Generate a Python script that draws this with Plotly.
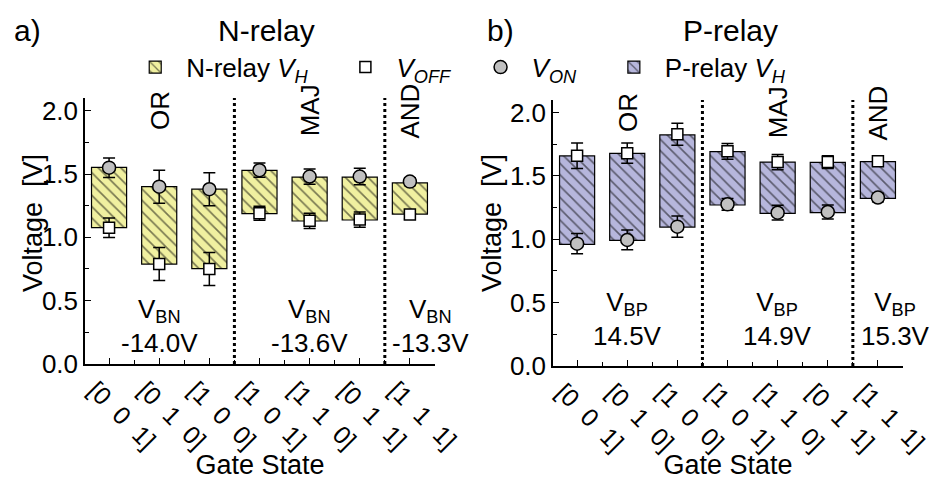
import plotly.graph_objects as go

# ---------------- data ----------------
gate_states = ["[0\u00a0\u00a00\u00a0\u00a01]", "[0\u00a0\u00a01\u00a0\u00a00]", "[1\u00a0\u00a00\u00a0\u00a00]",
               "[1\u00a0\u00a00\u00a0\u00a01]", "[1\u00a0\u00a01\u00a0\u00a00]", "[0\u00a0\u00a01\u00a0\u00a01]",
               "[1\u00a0\u00a01\u00a0\u00a01]"]
positions = [1, 2, 3, 4, 5, 6, 7]

n_top = [1.553, 1.40, 1.38, 1.529, 1.476, 1.476, 1.43]
n_bottom = [1.076, 0.789, 0.753, 1.187, 1.129, 1.137, 1.184]
n_von = [1.55, 1.40, 1.38, 1.53, 1.48, 1.48, 1.44]
n_von_err = [0.077, 0.13, 0.13, 0.056, 0.06, 0.065, 0.03]
n_voff = [1.076, 0.79, 0.75, 1.19, 1.13, 1.14, 1.18]
n_voff_err = [0.077, 0.13, 0.13, 0.055, 0.06, 0.06, 0.035]

p_top = [1.658, 1.679, 1.824, 1.692, 1.61, 1.608, 1.613]
p_bottom = [0.96, 0.992, 1.097, 1.271, 1.205, 1.21, 1.324]
p_voff = [1.66, 1.68, 1.83, 1.695, 1.61, 1.61, 1.616]
p_voff_err = [0.10, 0.08, 0.087, 0.062, 0.06, 0.05, 0.025]
p_von = [0.966, 0.995, 1.10, 1.276, 1.21, 1.216, 1.33]
p_von_err = [0.08, 0.078, 0.084, 0.047, 0.058, 0.055, 0.033]

logic_groups = ["OR", "MAJ", "AND"]
logic_pos = [2, 5, 7]
vbn_labels = ["-14.0V", "-13.6V", "-13.3V"]
vbp_labels = ["14.5V", "14.9V", "15.3V"]
vb_label_pos_n = [2, 5, 7.42]
vb_label_pos_p = [2, 5, 7.35]
group_dividers = [3.5, 6.5]

NB = "\u00a0"
legend_names = {
    "n_bar": "N-relay <i>V<sub>H</sub></i>" + NB * 3,
    "voff": "<i>V<sub>OFF</sub></i>" + NB * 2,
    "von": "<i>V<sub>ON</sub></i>" + NB * 3,
    "p_bar": "P-relay <i>V<sub>H</sub></i>",
}

YELLOW = "#f0f0a0"
PURPLE = "#b6b6dc"
GRAY = "#c0c0c0"
FONT = "Liberation Sans, Arial, sans-serif"


def f(size):
    return dict(size=size, family=FONT, color="black")


fig = go.Figure()


def add_bars(xa, ya, top, bottom, color, name):
    hyst = [t - b for t, b in zip(top, bottom)]
    fig.add_trace(go.Bar(
        x=positions, y=hyst, base=bottom, width=0.7,
        xaxis=xa, yaxis=ya, name=name, showlegend=True,
        marker=dict(color=color, line=dict(color="black", width=1.2),
                    pattern=dict(shape="\\", fgcolor="black", bgcolor=color, size=8, solidity=0.2)),
    ))


def add_points(xa, ya, vals, errs, symbol, size, color, name, show):
    fig.add_trace(go.Scatter(
        x=positions, y=vals, mode="markers", xaxis=xa, yaxis=ya,
        name=name, showlegend=show,
        marker=dict(symbol=symbol, size=size, color=color, line=dict(color="black", width=1.5)),
        error_y=dict(type="data", array=errs, color="black", thickness=1.5, width=6),
    ))


# N-relay panel
add_bars("x", "y", n_top, n_bottom, YELLOW, legend_names["n_bar"])
add_points("x", "y", n_voff, n_voff_err, "square", 11, "white", legend_names["voff"], True)
add_points("x", "y", n_von, n_von_err, "circle", 13, GRAY, legend_names["von"], True)

# P-relay panel
add_bars("x2", "y2", p_top, p_bottom, PURPLE, legend_names["p_bar"])
add_points("x2", "y2", p_voff, p_voff_err, "square", 11, "white", legend_names["voff"], False)
add_points("x2", "y2", p_von, p_von_err, "circle", 13, GRAY, legend_names["von"], False)

xaxis_common = dict(
    range=[0.52, 7.5], tickmode="array", tickvals=positions, ticktext=gate_states,
    tickangle=45, ticks="inside", ticklen=6, tickwidth=1.2, tickcolor="black",
    minor=dict(tickmode="linear", tick0=0.5, dtick=1, ticks="inside", ticklen=4, tickcolor="black"),
    showline=True, linecolor="black", linewidth=1.5, showgrid=False, zeroline=False,
    tickfont=f(25), automargin=False,
    title=dict(text="Gate State", font=f(27), standoff=0),
    ticklabelshift=-14,
)
yaxis_common = dict(
    range=[0, 2.1], dtick=0.5, tick0=0, tickformat=".1f",
    ticks="inside", ticklen=6, tickwidth=1.2, tickcolor="black",
    minor=dict(dtick=0.25, ticks="inside", ticklen=4, tickcolor="black"),
    showline=True, linecolor="black", linewidth=1.5, showgrid=False, zeroline=False,
    tickfont=f(26), automargin=False,
)

fig.update_layout(
    width=934, height=480,
    margin=dict(l=0, r=0, t=0, b=0, autoexpand=False),
    paper_bgcolor="white", plot_bgcolor="white",
    font=f(24),
    barmode="overlay",
    xaxis=dict(domain=[0.0910, 0.4657], anchor="y", **xaxis_common),
    yaxis=dict(domain=[0.2417, 0.7958], anchor="x", **yaxis_common),
    xaxis2=dict(domain=[0.5921, 0.9668], anchor="y2", **xaxis_common),
    yaxis2=dict(domain=[0.2375, 0.7917], anchor="x2", **yaxis_common),
    legend=dict(orientation="h", x=0.133, y=0.86, xanchor="left", yanchor="middle",
                font=f(26), bgcolor="rgba(0,0,0,0)", itemwidth=52, tracegroupgap=0),
    showlegend=True,
)

# divider lines
for xa, ya in (("x", "y"), ("x2", "y2")):
    for d in group_dividers:
        fig.add_shape(type="line", xref=xa, yref=f"{ya} domain", x0=d, x1=d, y0=0, y1=1,
                      line=dict(color="black", width=3, dash="dot"))

# y-axis titles
for xp, yp in ((33 / 934, 1 - 223 / 480), (492 / 934, 1 - 223 / 480)):
    fig.add_annotation(x=xp, y=yp, xref="paper", yref="paper", text="Voltage\u00a0\u00a0[V]",
                       textangle=-90, showarrow=False, font=f(27), xanchor="center", yanchor="middle")

# logic group labels
for xa, ya in (("x", "y"), ("x2", "y2")):
    for name, pos in zip(logic_groups, logic_pos):
        fig.add_annotation(x=pos, y=2.0, xref=xa, yref=ya, text=name, textangle=-90,
                           showarrow=False, font=f(26), xanchor="center", yanchor="middle")

# bias voltage labels
for lab, pos in zip(vbn_labels, vb_label_pos_n):
    fig.add_annotation(x=pos, y=0.30, xref="x", yref="y", text="V<sub>BN</sub><br>" + lab,
                       showarrow=False, font=f(26), align="center")
for lab, pos in zip(vbp_labels, vb_label_pos_p):
    fig.add_annotation(x=pos, y=0.37, xref="x2", yref="y2", text="V<sub>BP</sub><br>" + lab,
                       showarrow=False, font=f(26), align="center")

# panel titles
for txt, xp in (("a)", 12 / 934), ("b)", 485 / 934)):
    fig.add_annotation(x=xp, y=0.9375, xref="paper", yref="paper", text=txt, showarrow=False,
                       xanchor="left", yanchor="middle", font=f(30))
for txt, xp in (("N-relay", 266 / 934), ("P-relay", 730 / 934)):
    fig.add_annotation(x=xp, y=0.9375, xref="paper", yref="paper", text=txt, showarrow=False,
                       xanchor="center", yanchor="middle", font=f(30))

fig.write_html("out.html")
